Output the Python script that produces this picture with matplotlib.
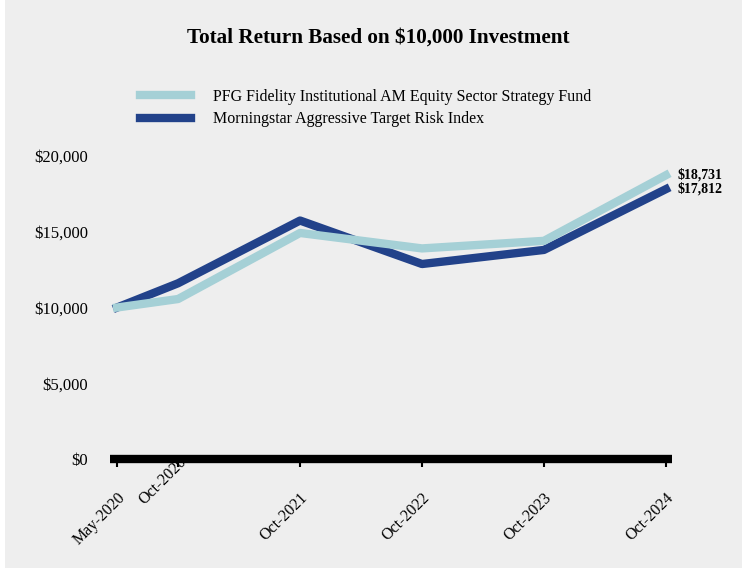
import matplotlib
matplotlib.use("Agg")
import matplotlib.pyplot as plt
import matplotlib.transforms as mtransforms
from matplotlib.patches import Rectangle

plt.rcParams['font.family'] = ['Liberation Serif', 'DejaVu Serif']

# months since May-2020
months = [0, 6, 18, 30, 42, 54]
tick_labels = ['May-2020', 'Oct-2020', 'Oct-2021', 'Oct-2022', 'Oct-2023', 'Oct-2024']
fund = [10000, 10560, 14920, 13900, 14400, 18731]
index = [10000, 11600, 15740, 12870, 13800, 17812]
fund_name = 'PFG Fidelity Institutional AM Equity Sector Strategy Fund'
index_name = 'Morningstar Aggressive Target Risk Index'
y_ticks = [0, 5000, 10000, 15000, 20000]

light = '#a5d0d6'
dark = '#22428a'
bg = '#eeeeee'

fig = plt.figure(figsize=(7.42, 5.80), dpi=100, facecolor='white')
fig.patches.append(Rectangle((5 / 742, 12 / 580), 1, 1, transform=fig.transFigure,
                             facecolor=bg, edgecolor='none', zorder=-10))

ax = fig.add_axes([110 / 742, 121 / 580, 562 / 742, 303 / 580])
ax.set_facecolor(bg)

ax.plot(months, index, color=dark, lw=6, label=index_name, clip_on=False, zorder=3)
ax.plot(months, fund, color=light, lw=6, label=fund_name, clip_on=False, zorder=4)

ax.set_xlim(-0.7, 54.6)
ax.set_ylim(0, 20000)
ax.set_xticks(months)
ax.set_xticklabels(tick_labels, rotation=45, ha='right', va='top',
                   rotation_mode='anchor', fontsize=11.5)
ax.set_yticks(y_ticks)
ax.set_yticklabels(['${:,}'.format(v) for v in y_ticks], fontsize=12)
ax.tick_params(axis='y', length=0, pad=16)
ax.tick_params(axis='x', length=6, width=1.5, direction='out', pad=16)

# the Oct-2020 label sits higher in the original
shift = mtransforms.ScaledTranslation(0, 26 / 72, fig.dpi_scale_trans)
lbl = ax.get_xticklabels()[1]
lbl.set_transform(lbl.get_transform() + shift)

for s in ['top', 'right', 'left']:
    ax.spines[s].set_visible(False)
ax.spines['bottom'].set_linewidth(6)
ax.spines['bottom'].set_capstyle('butt')
ax.spines['bottom'].set_zorder(5)

ax.annotate('${:,}'.format(fund[-1]), xy=(months[-1], fund[-1]), xytext=(8, 0),
            textcoords='offset points', va='center', ha='left',
            fontsize=10, fontweight='bold', annotation_clip=False)
ax.annotate('${:,}'.format(index[-1]), xy=(months[-1], index[-1]), xytext=(8, 0),
            textcoords='offset points', va='center', ha='left',
            fontsize=10, fontweight='bold', annotation_clip=False)

fig.text(378 / 742, 542 / 580, 'Total Return Based on $10,000 Investment',
         ha='center', va='center', fontsize=15.2, fontweight='bold')

h, l = ax.get_legend_handles_labels()
fig.legend(h[::-1], l[::-1], loc='upper left', bbox_to_anchor=(140 / 742, 491 / 580),
           frameon=False, fontsize=11.5, handlelength=3.2, handletextpad=1.38,
           labelspacing=0.4, borderpad=0, borderaxespad=0)

fig.savefig('out.png', dpi=100, facecolor=fig.get_facecolor())
